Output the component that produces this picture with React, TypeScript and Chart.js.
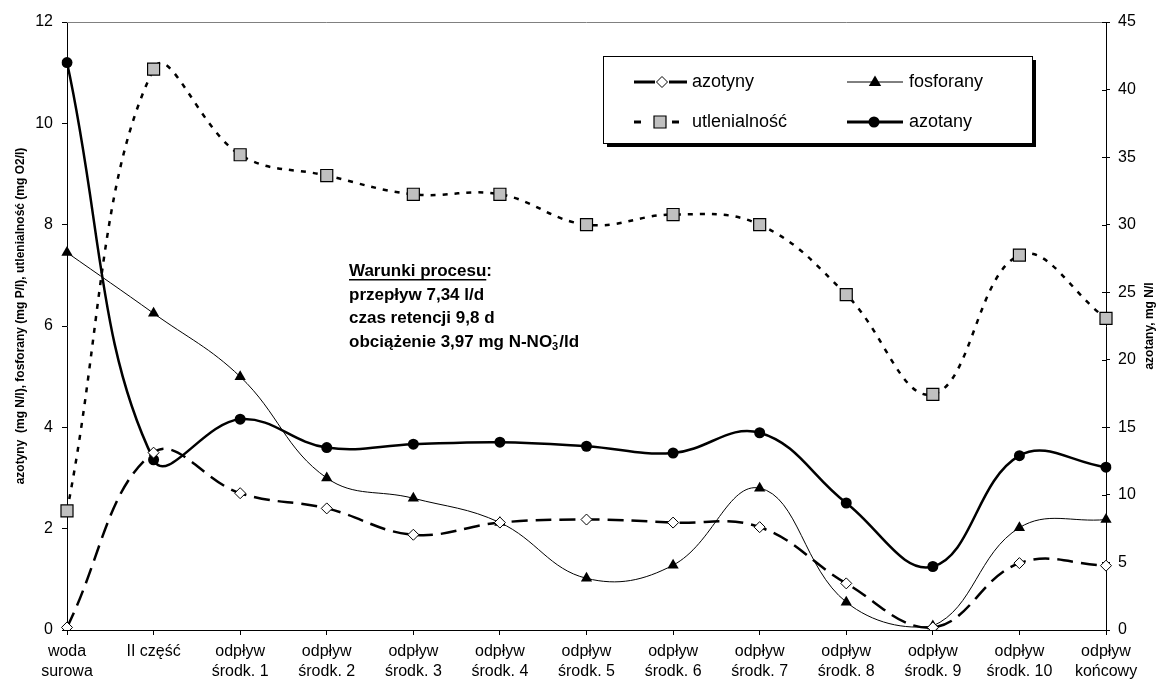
import React, { useEffect, useRef } from 'react';
import { Chart, registerables } from 'chart.js';

Chart.register(...registerables);

const categories: string[][] = [
  ['woda', 'surowa'],
  ['II część'],
  ['odpływ', 'środk. 1'],
  ['odpływ', 'środk. 2'],
  ['odpływ', 'środk. 3'],
  ['odpływ', 'środk. 4'],
  ['odpływ', 'środk. 5'],
  ['odpływ', 'środk. 6'],
  ['odpływ', 'środk. 7'],
  ['odpływ', 'środk. 8'],
  ['odpływ', 'środk. 9'],
  ['odpływ', 'środk. 10'],
  ['odpływ', 'końcowy'],
];

const azotyny = [0.05, 3.5, 2.7, 2.4, 1.88, 2.12, 2.18, 2.12, 2.03, 0.92, 0.05, 1.32, 1.27];
const fosforany = [7.45, 6.25, 5.0, 3.0, 2.6, 2.12, 1.02, 1.28, 2.8, 0.55, 0.08, 2.02, 2.18];
const utlenialnosc = [2.35, 11.07, 9.38, 8.97, 8.6, 8.6, 8.0, 8.2, 8.0, 6.62, 4.65, 7.4, 6.15];
const azotany = [42.0, 12.6, 15.6, 13.5, 13.75, 13.9, 13.6, 13.1, 14.6, 9.4, 4.7, 12.9, 12.05];

const leftAxis = { min: 0, max: 12, step: 2 };
const rightAxis = { min: 0, max: 45, step: 5 };

const leftTitle = 'azotyny  (mg N/l), fosforany (mg P/l), utlenialność (mg O2/l)';
const rightTitle = 'azotany, mg N/l';
const legendNames = ['azotyny', 'fosforany', 'utlenialność', 'azotany'];
const noteTitle = 'Warunki procesu';
const noteLines = ['przepływ 7,34 l/d', 'czas retencji 9,8 d'];
const noteLoad = ['obciążenie 3,97 mg N-NO', '3', '-', '/ld'];

const FONT = '"Liberation Sans", Arial, sans-serif';

function drawMarker(ctx: CanvasRenderingContext2D, kind: string, x: number, y: number) {
  ctx.save();
  ctx.setLineDash([]);
  ctx.lineWidth = 1;
  ctx.strokeStyle = '#000';
  ctx.beginPath();
  if (kind === 'diamond') {
    const r = 5.5;
    ctx.moveTo(x, y - r);
    ctx.lineTo(x + r, y);
    ctx.lineTo(x, y + r);
    ctx.lineTo(x - r, y);
    ctx.closePath();
    ctx.fillStyle = '#fff';
    ctx.fill();
    ctx.stroke();
  } else if (kind === 'triangle') {
    const r = 6.5;
    ctx.moveTo(x, y - r);
    ctx.lineTo(x + r * 0.95, y + r * 0.6);
    ctx.lineTo(x - r * 0.95, y + r * 0.6);
    ctx.closePath();
    ctx.fillStyle = '#000';
    ctx.fill();
  } else if (kind === 'square') {
    ctx.rect(x - 6, y - 6, 12, 12);
    ctx.fillStyle = '#c0c0c0';
    ctx.fill();
    ctx.lineWidth = 1.2;
    ctx.stroke();
  } else {
    ctx.arc(x, y, 5.5, 0, Math.PI * 2);
    ctx.fillStyle = '#000';
    ctx.fill();
  }
  ctx.restore();
}

function seg(ctx: CanvasRenderingContext2D, x1: number, x2: number, y: number, w: number) {
  ctx.beginPath();
  ctx.lineWidth = w;
  ctx.moveTo(x1, y);
  ctx.lineTo(x2, y);
  ctx.stroke();
}

const decorPlugin = {
  id: 'decor',
  beforeDatasetsDraw(chart: any) {
    const { ctx, chartArea } = chart;
    ctx.save();
    ctx.strokeStyle = '#808080';
    ctx.lineWidth = 1;
    ctx.beginPath();
    ctx.moveTo(chartArea.left, chartArea.top + 0.5);
    ctx.lineTo(chartArea.right, chartArea.top + 0.5);
    ctx.stroke();
    // right axis crossing ticks (inner part)
    const y2 = chart.scales.y2;
    ctx.strokeStyle = '#000';
    y2.ticks.forEach((t: any) => {
      const py = Math.round(y2.getPixelForValue(t.value)) + 0.5;
      ctx.beginPath();
      ctx.moveTo(chartArea.right - 4, py);
      ctx.lineTo(chartArea.right, py);
      ctx.stroke();
    });
    ctx.restore();
  },
  afterDraw(chart: any) {
    const { ctx, chartArea } = chart;
    ctx.save();
    ctx.fillStyle = '#000';
    ctx.strokeStyle = '#000';

    // axis titles
    const midY = (chartArea.top + chartArea.bottom) / 2;
    ctx.font = `bold 12px ${FONT}`;
    ctx.textAlign = 'center';
    ctx.textBaseline = 'middle';
    ctx.save();
    ctx.translate(21, midY - 10);
    ctx.rotate(-Math.PI / 2);
    ctx.fillText(leftTitle, 0, 0);
    ctx.restore();
    ctx.save();
    ctx.translate(1150, midY);
    ctx.rotate(-Math.PI / 2);
    ctx.fillText(rightTitle, 0, 0);
    ctx.restore();

    // legend box
    const bx = 603, by = 56, bw = 429, bh = 87;
    ctx.fillStyle = '#000';
    ctx.fillRect(bx + 4, by + bh, bw, 4);
    ctx.fillRect(bx + bw, by + 4, 4, bh);
    ctx.fillStyle = '#fff';
    ctx.fillRect(bx, by, bw, bh);
    ctx.strokeStyle = '#000';
    ctx.lineWidth = 1;
    ctx.strokeRect(bx + 0.5, by + 0.5, bw, bh);

    const r1 = 82, r2 = 122;
    ctx.strokeStyle = '#000';
    // azotyny
    seg(ctx, 634, 655, r1, 3);
    seg(ctx, 669, 687, r1, 3);
    drawMarker(ctx, 'diamond', 662, r1);
    // utlenialność
    seg(ctx, 634, 641, r2, 3);
    seg(ctx, 672, 679, r2, 3);
    drawMarker(ctx, 'square', 660, r2);
    // fosforany
    seg(ctx, 847, 903, r1, 1);
    drawMarker(ctx, 'triangle', 875, r1);
    // azotany
    seg(ctx, 847, 903, r2, 3);
    drawMarker(ctx, 'circle', 874, r2);

    ctx.fillStyle = '#000';
    ctx.font = `18px ${FONT}`;
    ctx.textAlign = 'left';
    ctx.textBaseline = 'middle';
    ctx.fillText(legendNames[0], 692, r1);
    ctx.fillText(legendNames[1], 909, r1);
    ctx.fillText(legendNames[2], 692, r2);
    ctx.fillText(legendNames[3], 909, r2);

    // annotation
    const nx = 349;
    const rows = [271, 295, 318, 342];
    ctx.font = `bold 17px ${FONT}`;
    ctx.textBaseline = 'middle';
    ctx.fillText(noteTitle, nx, rows[0]);
    const tw = ctx.measureText(noteTitle).width;
    ctx.fillText(':', nx + tw, rows[0]);
    ctx.fillRect(nx, rows[0] + 8, tw, 1.5);
    ctx.fillText(noteLines[0], nx, rows[1]);
    ctx.fillText(noteLines[1], nx, rows[2]);
    let cx = nx;
    ctx.fillText(noteLoad[0], cx, rows[3]);
    cx += ctx.measureText(noteLoad[0]).width;
    ctx.font = `bold 11px ${FONT}`;
    ctx.fillText(noteLoad[1], cx, rows[3] + 5);
    ctx.fillText(noteLoad[2], cx + 1, rows[3] - 7);
    cx += ctx.measureText(noteLoad[1]).width + 1;
    ctx.font = `bold 17px ${FONT}`;
    ctx.fillText(noteLoad[3], cx, rows[3]);

    ctx.restore();
  },
};

export default function App() {
  const ref = useRef<HTMLCanvasElement | null>(null);

  useEffect(() => {
    document.body.style.margin = '0';
    const canvas = ref.current;
    if (!canvas) return;
    const chart = new Chart(canvas, {
      type: 'line',
      data: {
        labels: categories,
        datasets: [
          {
            label: legendNames[0],
            data: azotyny,
            yAxisID: 'y',
            borderColor: '#000',
            borderWidth: 2.5,
            borderDash: [16, 8],
            pointStyle: 'rectRot',
            pointRadius: 5.5,
            pointBackgroundColor: '#fff',
            pointBorderColor: '#000',
            pointBorderWidth: 1,
            tension: 0.4,
            fill: false,
          },
          {
            label: legendNames[1],
            data: fosforany,
            yAxisID: 'y',
            borderColor: '#000',
            borderWidth: 1,
            pointStyle: 'triangle',
            pointRadius: 6.5,
            pointBackgroundColor: '#000',
            pointBorderColor: '#000',
            pointBorderWidth: 0,
            tension: 0.4,
            fill: false,
          },
          {
            label: legendNames[2],
            data: utlenialnosc,
            yAxisID: 'y',
            borderColor: '#000',
            borderWidth: 2.5,
            borderDash: [5, 7],
            pointStyle: 'rect',
            pointRadius: 8.5,
            pointBackgroundColor: '#c0c0c0',
            pointBorderColor: '#000',
            pointBorderWidth: 1.2,
            tension: 0.4,
            fill: false,
          },
          {
            label: legendNames[3],
            data: azotany,
            yAxisID: 'y2',
            borderColor: '#000',
            borderWidth: 2.5,
            pointStyle: 'circle',
            pointRadius: 5.5,
            pointBackgroundColor: '#000',
            pointBorderColor: '#000',
            pointBorderWidth: 0,
            tension: 0.4,
            fill: false,
          },
        ],
      },
      options: {
        responsive: false,
        animation: false,
        events: [],
        layout: { padding: { top: 22, left: 0, right: 0, bottom: 0 } },
        plugins: {
          legend: { display: false },
          tooltip: { enabled: false },
        },
        scales: {
          x: {
            type: 'category',
            offset: false,
            grid: { display: true, drawOnChartArea: false, tickLength: 5, color: '#000' },
            border: { display: true, color: '#000', width: 1 },
            ticks: {
              color: '#000',
              font: { family: FONT, size: 16, lineHeight: 1.25 },
              padding: 7,
              maxRotation: 0,
              autoSkip: false,
            },
            afterFit: (s: any) => { s.height = 54; },
          },
          y: {
            position: 'left',
            min: leftAxis.min,
            max: leftAxis.max,
            grid: { display: true, drawOnChartArea: false, tickLength: 5, color: '#000' },
            border: { display: true, color: '#000', width: 1 },
            ticks: {
              stepSize: leftAxis.step,
              color: '#000',
              font: { family: FONT, size: 16 },
              padding: 9,
            },
            afterFit: (s: any) => { s.width = 67; },
          },
          y2: {
            position: 'right',
            min: rightAxis.min,
            max: rightAxis.max,
            grid: { display: true, drawOnChartArea: false, tickLength: 4, color: '#000' },
            border: { display: true, color: '#000', width: 1 },
            ticks: {
              stepSize: rightAxis.step,
              color: '#000',
              font: { family: FONT, size: 16 },
              padding: 8,
            },
            afterFit: (s: any) => { s.width = 51; },
          },
        },
      },
      plugins: [decorPlugin],
    });
    return () => chart.destroy();
  }, []);

  return (
    <div style={{ width: 1157, height: 684 }}>
      <canvas ref={ref} width={1157} height={684} />
    </div>
  );
}
